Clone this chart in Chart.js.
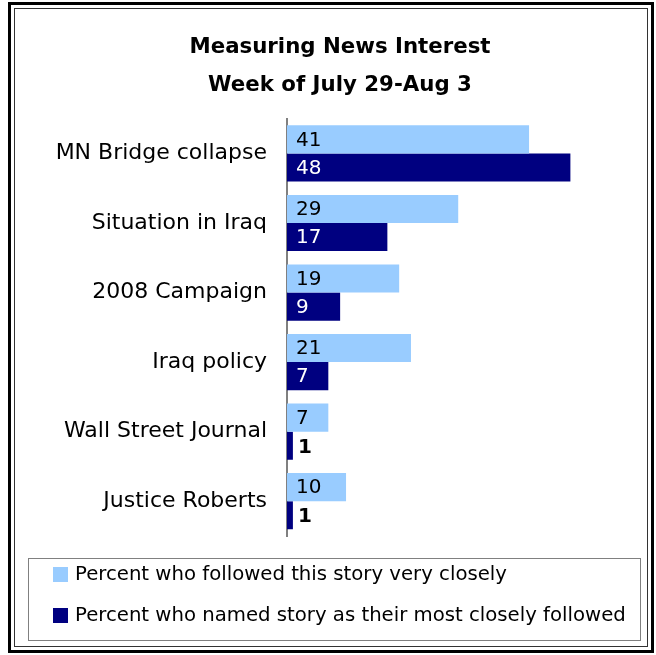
<!DOCTYPE html>
<html>
<head>
<meta charset="utf-8">
<script src="https://cdn.jsdelivr.net/npm/chart.js@4.4.1/dist/chart.umd.min.js"></script>
<style>
  html, body { margin: 0; padding: 0; background: #fff; }
  #wrap { width: 656px; height: 655px; }
</style>
</head>
<body>
<div id="wrap"><canvas id="chart"></canvas></div>
<script>
const stories = ["MN Bridge collapse", "Situation in Iraq", "2008 Campaign", "Iraq policy", "Wall Street Journal", "Justice Roberts"];
const followedClosely = [41, 29, 19, 21, 7, 10];
const mostFollowed = [48, 17, 9, 7, 1, 1];
const seriesNames = ["Percent who followed this story very closely", "Percent who named story as their most closely followed"];
const titleLines = ["Measuring News Interest", "Week of July 29-Aug 3"];

const FONT = "'DejaVu Sans', sans-serif";

// white page, double frame and the boxed legend
const framePlugin = {
  id: "frame",
  beforeDraw(chart) {
    const c = chart.ctx;
    c.save();
    c.fillStyle = "#fff";
    c.fillRect(0, 0, chart.width, chart.height);
    c.strokeStyle = "#000";
    c.lineWidth = 3;
    c.strokeRect(9.5, 3.5, 643, 648);
    c.lineWidth = 1;
    c.strokeStyle = "#333";
    c.strokeRect(14.5, 8.5, 633, 638);
    c.restore();
  },
  afterDraw(chart) {
    const c = chart.ctx;
    c.save();
    c.strokeStyle = "#808080";
    c.lineWidth = 1;
    c.strokeRect(28.5, 558.5, 612, 82);
    c.font = "19.7px " + FONT;
    c.textBaseline = "middle";
    chart.data.datasets.forEach((ds, i) => {
      const y = 567 + i * 41;
      c.fillStyle = ds.backgroundColor;
      c.fillRect(53, y, 15, 15);
      c.fillStyle = "#000";
      c.fillText(ds.label, 75, y + 8);
    });
    c.restore();
  }
};

// numbers written inside the start of each bar
const valueLabels = {
  id: "valueLabels",
  afterDatasetsDraw(chart) {
    const c = chart.ctx;
    c.save();
    c.textBaseline = "middle";
    chart.data.datasets.forEach((ds, di) => {
      chart.getDatasetMeta(di).data.forEach((bar, i) => {
        const v = ds.data[i];
        if (v >= 3) {
          c.font = "20px " + FONT;
          c.fillStyle = di === 0 ? "#000" : "#fff";
          c.fillText(v, bar.base + 9, bar.y + 1);
        } else {
          c.font = "bold 20px " + FONT;
          c.fillStyle = "#000";
          c.fillText(v, bar.x + 5, bar.y + 2);
        }
      });
    });
    c.restore();
  }
};

new Chart(document.getElementById("chart"), {
  type: "bar",
  data: {
    labels: stories,
    datasets: [
      { label: seriesNames[0], data: followedClosely, backgroundColor: "#99ccff" },
      { label: seriesNames[1], data: mostFollowed, backgroundColor: "#000080" }
    ]
  },
  options: {
    indexAxis: "y",
    responsive: true,
    maintainAspectRatio: false,
    animation: false,
    layout: { padding: { left: 24, right: 0, top: 0, bottom: 119 } },
    datasets: {
      bar: { categoryPercentage: 0.808, barPercentage: 1, borderWidth: 0 }
    },
    plugins: {
      legend: { display: false },
      tooltip: { enabled: false },
      title: {
        display: true,
        text: titleLines,
        color: "#000",
        font: { family: FONT, size: 21.3, weight: "bold", lineHeight: 1.8 },
        padding: { top: 28, bottom: 14 }
      }
    },
    scales: {
      x: {
        display: false,
        min: 0,
        max: 62.5
      },
      y: {
        afterFit(scale) { scale.width = 263; },
        grid: { display: false, drawTicks: false },
        border: { display: true, color: "#808080", width: 2 },
        ticks: {
          color: "#000",
          padding: 20,
          font: { family: FONT, size: 22 }
        }
      }
    }
  },
  plugins: [framePlugin, valueLabels]
});
</script>
</body>
</html>
